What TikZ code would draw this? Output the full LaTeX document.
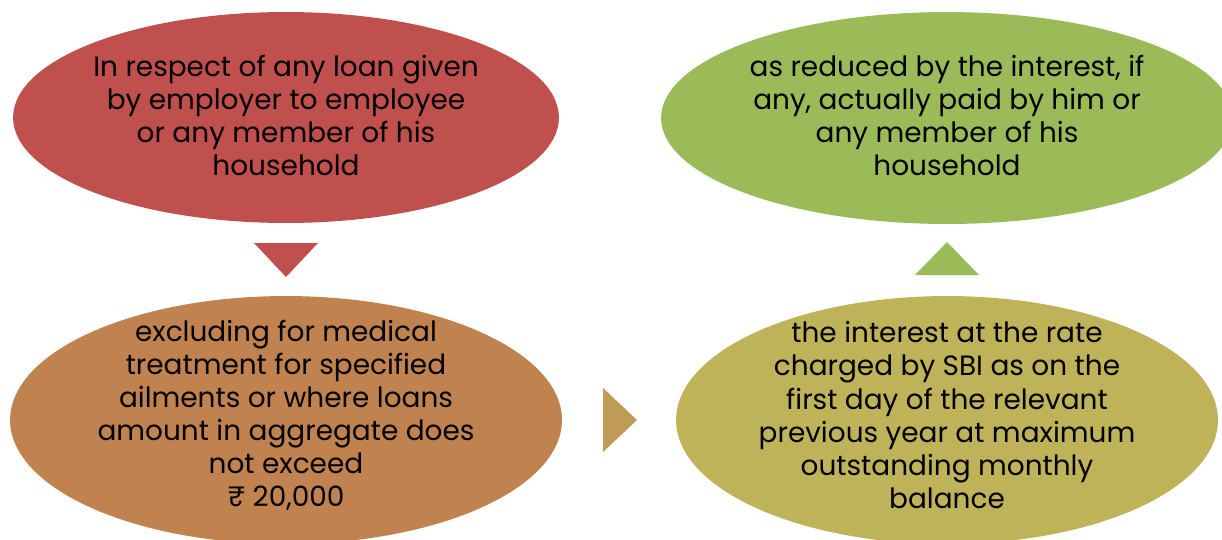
\documentclass[tikz,border=0pt]{standalone}
\usepackage{fontspec}
\setmainfont{Poppins}
\usetikzlibrary{shapes.geometric}
\definecolor{loanred}{HTML}{C0504D}
\definecolor{paidgreen}{HTML}{9BBB59}
\definecolor{exclbrown}{HTML}{C0834F}
\definecolor{rateolive}{HTML}{BFB35A}
\definecolor{stepgold}{HTML}{BF9B55}
\tikzset{
    blob/.style={ellipse, inner sep=0pt, draw=none},
    blobtext/.style={align=center, font=\fontsize{15.9}{18.8}\selectfont},
    pointer/.style={draw=none},
}
\begin{document}
\begin{tikzpicture}[x=0.02cm,y=-0.02cm]
            \useasboundingbox (0,0) rectangle (1222,539);
            % the four ellipses
            \node[blob, fill=loanred, minimum width=10.92cm, minimum height=4.22cm] (loan) at (286,117.5) {};
            \node[blob, fill=paidgreen, minimum width=11.44cm, minimum height=4.24cm] (paid) at (947,118) {};
            \node[blob, fill=exclbrown, minimum width=11.04cm, minimum height=4.96cm] (excl) at (286,420) {};
            \node[blob, fill=rateolive, minimum width=10.84cm, minimum height=4.96cm] (rate) at (947,420) {};
            \node[blobtext] (loantext) at (286,115) {In respect of any loan given\\by employer to employee\\or any member of his\\household};
            \node[blobtext] (paidtext) at (947,115) {as reduced by the interest, if\\any, actually paid by him or\\any member of his\\household};
            \node[blobtext] (excltext) at (286,415) {excluding for medical\\treatment for specified\\ailments or where loans\\amount in aggregate does\\not exceed\\₹ 20,000};
            \node[blobtext] (ratetext) at (947,415) {the interest at the rate\\charged by SBI as on the\\first day of the relevant\\previous year at maximum\\outstanding monthly\\balance};
            % the three pointers
            \fill[loanred] (254,243) -- (318,243) -- (286,277) -- cycle;
            \fill[stepgold] (603,388) -- (637,420) -- (603,452) -- cycle;
            \fill[paidgreen] (915,275) -- (979,275) -- (947,242) -- cycle;
        \end{tikzpicture}
\end{document}
